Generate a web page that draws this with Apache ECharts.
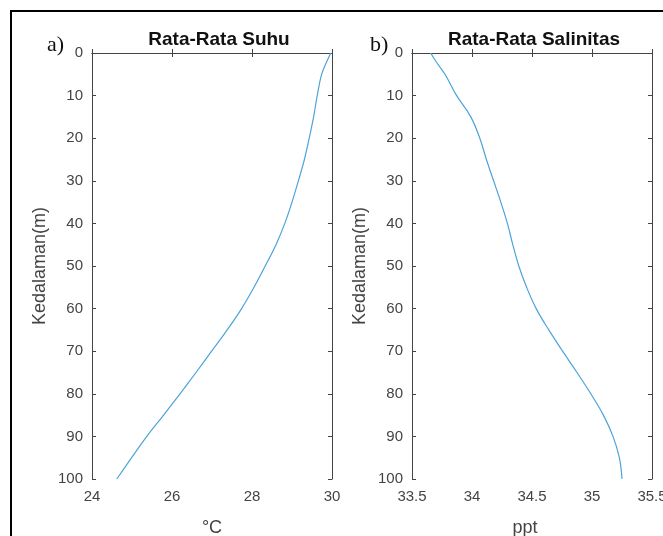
<!DOCTYPE html>
<html>
<head>
<meta charset="utf-8">
<script src="https://cdn.jsdelivr.net/npm/echarts@6/dist/echarts.min.js"></script>
<style>
  html, body { margin: 0; padding: 0; background: #fff; }
  #chart { width: 663px; height: 536px; }
</style>
</head>
<body>
<div id="chart"></div>
<script>
var depth = [0, 2, 5, 10, 15, 20, 25, 30, 35, 40, 45, 50, 55, 60, 65, 70, 75, 80, 85, 90, 95, 100];
var suhu = [29.97, 29.87, 29.74, 29.63, 29.54, 29.43, 29.31, 29.16, 29.0, 28.82, 28.6, 28.33, 28.05, 27.74, 27.38, 26.99, 26.6, 26.2, 25.79, 25.37, 24.99, 24.62];
var salinitas = [33.656, 33.7, 33.775, 33.872, 33.99, 34.065, 34.12, 34.18, 34.24, 34.295, 34.34, 34.39, 34.455, 34.535, 34.64, 34.755, 34.875, 34.99, 35.095, 35.175, 35.228, 35.25];

var chart = echarts.init(document.getElementById('chart'));

function pairs(vals) {
    var out = [];
    for (var i = 0; i < depth.length; i++) out.push([vals[i], depth[i]]);
    return out;
}

var axisColor = '#444';
var fontFam = 'Liberation Sans, Arial, sans-serif';
var labelStyle = { color: '#444', fontSize: 15, fontFamily: fontFam };

function xAxes(gridIndex, min, max, interval, name, namePad) {
    return [{
        gridIndex: gridIndex, type: 'value', position: 'bottom',
        min: min, max: max, interval: interval,
        name: name, nameLocation: 'middle', nameGap: 40,
        nameTextStyle: { color: '#444', fontSize: 18, fontFamily: fontFam, padding: namePad },
        axisLine: { lineStyle: { color: axisColor } },
        axisTick: { inside: true, length: 4, lineStyle: { color: axisColor } },
        axisLabel: Object.assign({ margin: 10 }, labelStyle),
        splitLine: { show: false }
    }, {
        gridIndex: gridIndex, type: 'value', position: 'top',
        min: min, max: max, interval: interval,
        axisLine: { lineStyle: { color: axisColor } },
        axisTick: { inside: true, length: 4, lineStyle: { color: axisColor } },
        axisLabel: { show: false },
        splitLine: { show: false }
    }];
}

function yAxes(gridIndex) {
    return [{
        gridIndex: gridIndex, type: 'value', position: 'left', inverse: true,
        min: 0, max: 100, interval: 10,
        name: 'Kedalaman(m)', nameLocation: 'middle', nameGap: 43,
        nameTextStyle: { color: '#444', fontSize: 18, fontFamily: fontFam },
        axisLine: { lineStyle: { color: axisColor } },
        axisTick: { inside: true, length: 4, lineStyle: { color: axisColor } },
        axisLabel: Object.assign({ margin: 9 }, labelStyle),
        splitLine: { show: false }
    }, {
        gridIndex: gridIndex, type: 'value', position: 'right', inverse: true,
        min: 0, max: 100, interval: 10,
        axisLine: { lineStyle: { color: axisColor } },
        axisTick: { inside: true, length: 4, lineStyle: { color: axisColor } },
        axisLabel: { show: false },
        splitLine: { show: false }
    }];
}

var titleFont = { fontSize: 19, fontWeight: 'bold', color: '#111', fontFamily: fontFam };

var option = {
    animation: false,
    backgroundColor: '#fff',
    title: [
        { text: 'Rata-Rata Suhu', left: 214, top: 25, textAlign: 'center', textStyle: titleFont },
        { text: 'Rata-Rata Salinitas', left: 529, top: 25, textAlign: 'center', textStyle: titleFont }
    ],
    grid: [
        { left: 92, top: 53, width: 240, height: 426, outerBoundsMode: 'none' },
        { left: 412, top: 53, width: 240, height: 426, outerBoundsMode: 'none' }
    ],
    xAxis: xAxes(0, 24, 30, 2, '°C', 0).concat(xAxes(1, 33.5, 35.5, 0.5, 'ppt', [0, 14, 0, 0])),
    yAxis: yAxes(0).concat(yAxes(1)),
    series: [{
        type: 'line', xAxisIndex: 0, yAxisIndex: 0,
        data: pairs(suhu), smooth: 0.4, showSymbol: false,
        lineStyle: { color: '#4da3d9', width: 1.2 }
    }, {
        type: 'line', xAxisIndex: 2, yAxisIndex: 2,
        data: pairs(salinitas), smooth: 0.4, showSymbol: false,
        lineStyle: { color: '#4da3d9', width: 1.2 }
    }],
    graphic: [
        { type: 'rect', shape: { x: 11, y: 11, width: 700, height: 600 }, style: { fill: 'none', stroke: '#000', lineWidth: 2 }, silent: true },
        { type: 'text', left: 47, top: 34, style: { text: 'a)', font: '22px "Liberation Serif", "Times New Roman", serif', fill: '#111' } },
        { type: 'text', left: 370, top: 34, style: { text: 'b)', font: '22px "Liberation Serif", "Times New Roman", serif', fill: '#111' } }
    ]
};

chart.setOption(option);
</script>
</body>
</html>
